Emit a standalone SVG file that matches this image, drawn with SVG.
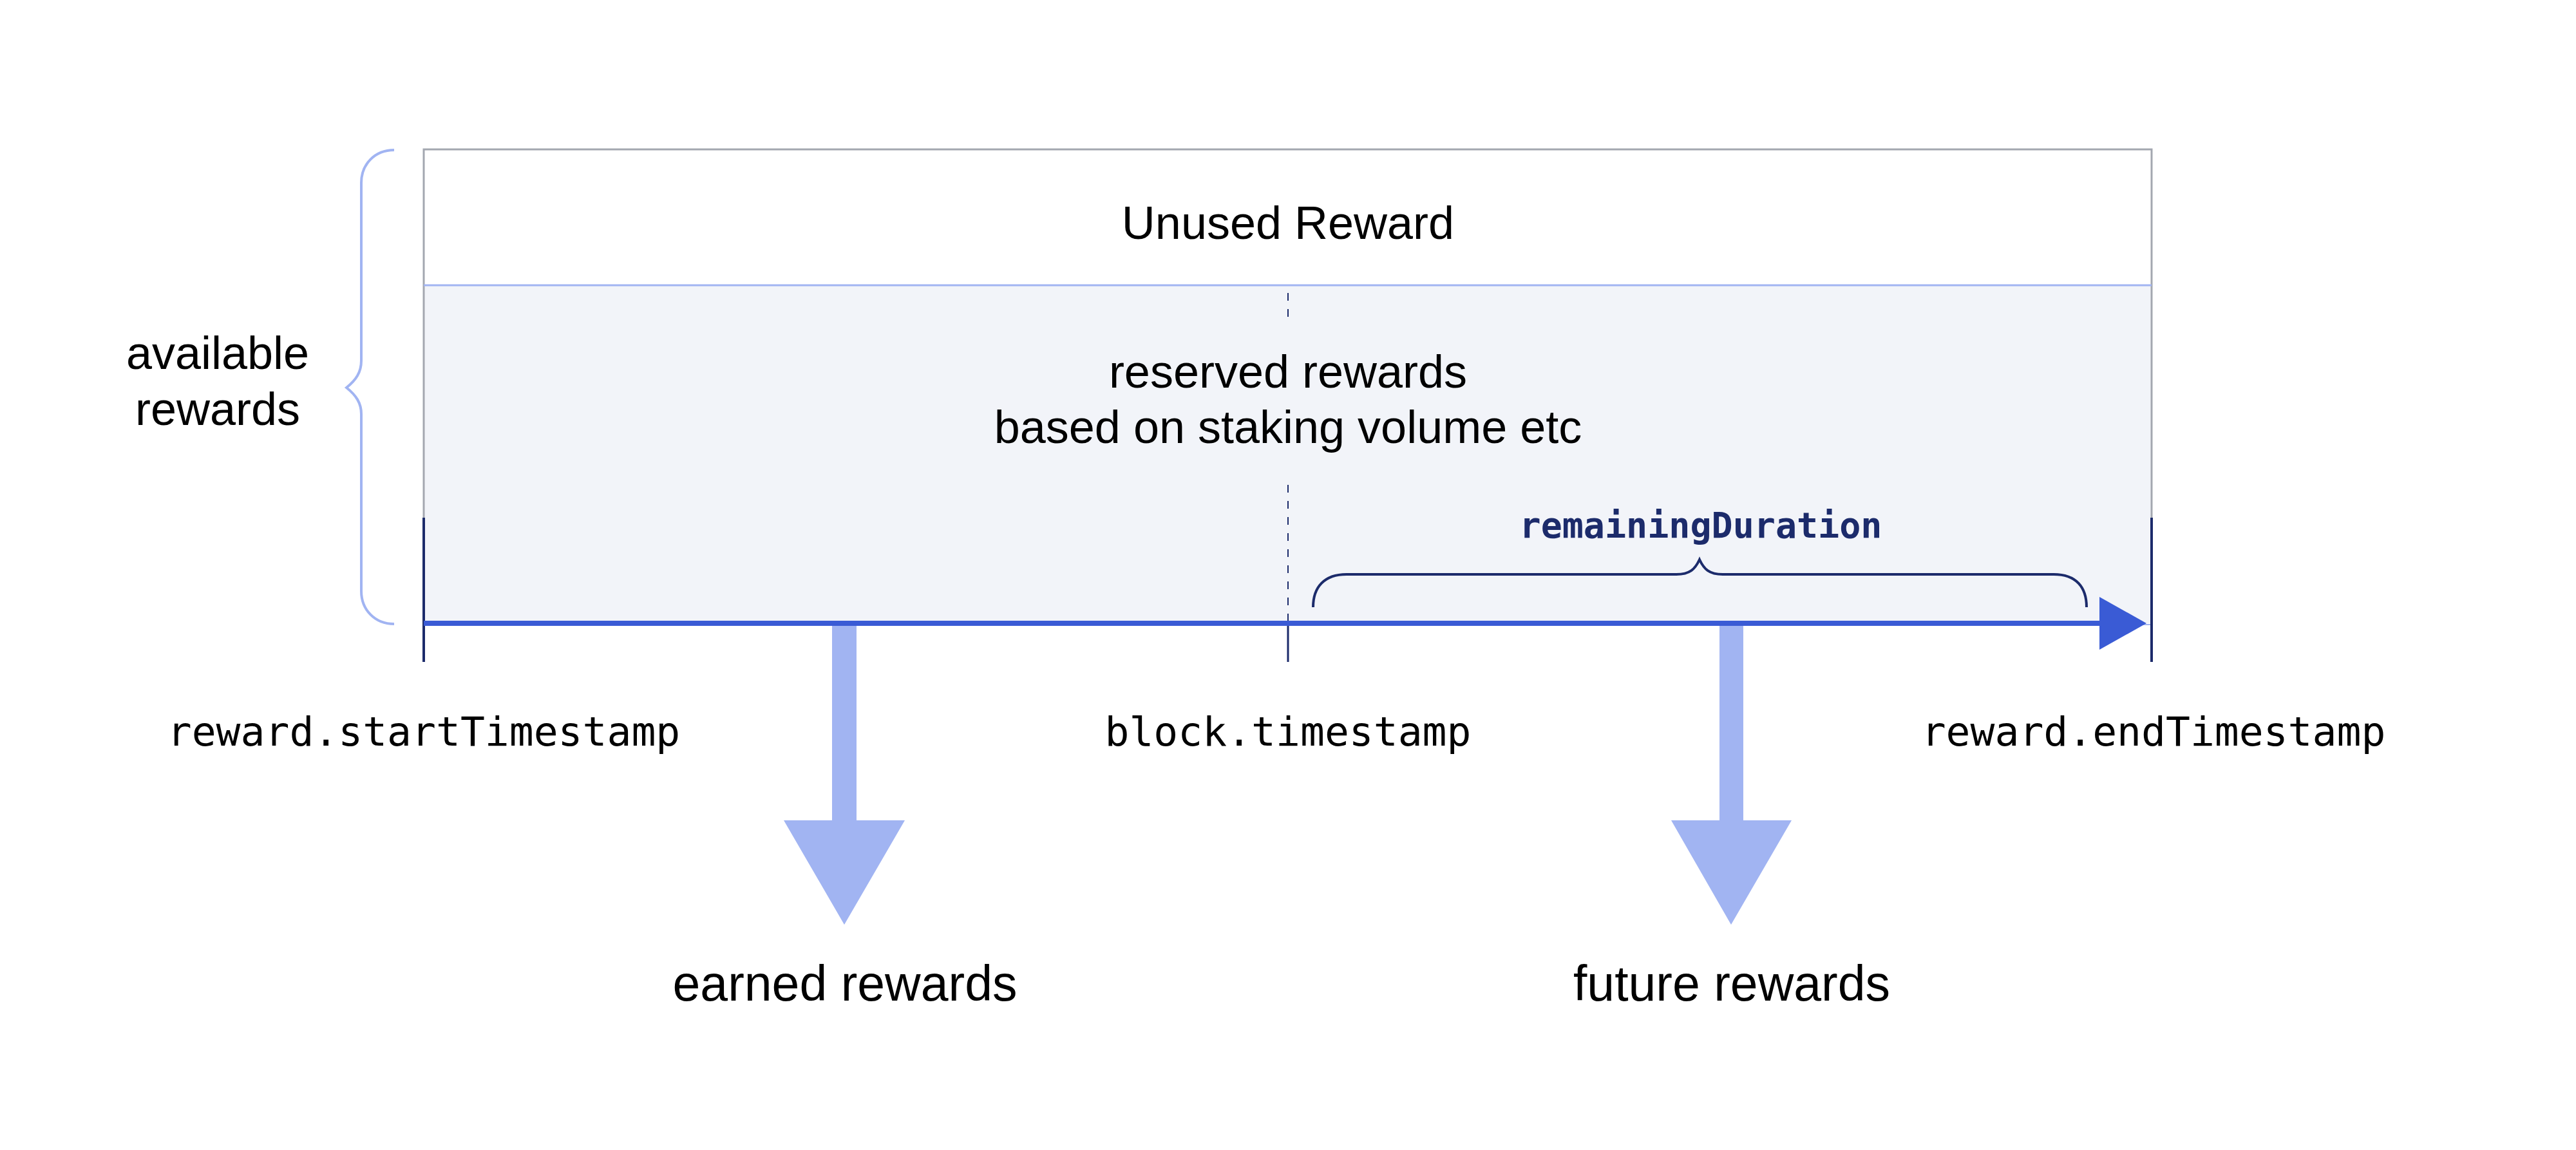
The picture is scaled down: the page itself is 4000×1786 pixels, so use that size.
<svg xmlns="http://www.w3.org/2000/svg" width="4000" height="1786" viewBox="0 0 4000 1786">
  <style>
    .sans { font-family: "Liberation Sans", Arial, sans-serif; fill: #000; text-anchor: middle; }
    .lbl { font-size: 72px; }
    .big { font-size: 77px; }
    .mono { font-family: "DejaVu Sans Mono", "Liberation Mono", monospace; font-size: 63px; fill: #000; text-anchor: middle; }
    .mono-b { font-family: "DejaVu Sans Mono", "Liberation Mono", monospace; font-size: 55px; font-weight: bold; fill: #1C2B6B; text-anchor: middle; }
    .navy { stroke: #1C2B6B; fill: none; }
    .gray { stroke: #A3A7B0; stroke-width: 3; fill: none; }
    .light { stroke: #A1B4F2; fill: none; }
    .down { fill: #A1B4F2; }
  </style>
  <rect width="4000" height="1786" fill="#ffffff"/>

  <g id="box">
    <rect x="658" y="443" width="2683" height="525" fill="#F2F4F9"/>
    <path class="gray" d="M658,804 L658,232 L3341,232 L3341,804"/>
    <line class="light" x1="658" y1="443" x2="3341" y2="443" stroke-width="3"/>
    <line class="light" x1="658" y1="970" x2="3341" y2="970" stroke-width="2"/>
    <text class="sans lbl" x="2000" y="371">Unused Reward</text>
    <text class="sans lbl" x="2000" y="602">reserved rewards</text>
    <text class="sans lbl" x="2000" y="688">based on staking volume etc</text>
  </g>

  <g id="available-rewards">
    <path class="light" stroke-width="4" d="M612,233 C582,233 561,255 561,284 L561,560 C561,578 553,590 538,602 C553,614 561,626 561,643 L561,918 C561,947 582,969 612,969"/>
    <text class="sans lbl" x="338" y="573">available</text>
    <text class="sans lbl" x="338" y="660">rewards</text>
  </g>

  <g id="start">
    <line class="navy" stroke-width="4" x1="658" y1="804" x2="658" y2="1028"/>
    <text class="mono" x="658" y="1158">reward.startTimestamp</text>
  </g>

  <g id="block">
    <line class="navy" stroke-width="2" stroke-dasharray="12 13" x1="2000" y1="455" x2="2000" y2="497"/>
    <line class="navy" stroke-width="2" stroke-dasharray="12 13" x1="2000" y1="753" x2="2000" y2="968"/>
    <line class="navy" stroke-width="3" x1="2000" y1="968" x2="2000" y2="1028"/>
    <text class="mono" x="2000" y="1158">block.timestamp</text>
  </g>

  <g id="end">
    <line class="navy" stroke-width="4" x1="3341" y1="804" x2="3341" y2="1028"/>
    <text class="mono" x="3344" y="1158">reward.endTimestamp</text>
  </g>

  <g id="remaining">
    <path class="navy" stroke-width="4" d="M2039,943 C2039,912 2056,892 2091,892 L2603,892 C2624,892 2632,884 2639,869 C2646,884 2654,892 2675,892 L3189,892 C3224,892 3240,912 3240,943"/>
    <text class="mono-b" x="2641" y="835">remainingDuration</text>
  </g>

  <g id="earned">
    <polygon class="down" points="1292,972 1330,972 1330,1274 1405,1274 1311,1436 1217,1274 1292,1274"/>
    <text class="sans big" x="1312" y="1554">earned rewards</text>
  </g>

  <g id="future">
    <polygon class="down" points="2670,972 2707,972 2707,1274 2782,1274 2688,1436 2595,1274 2670,1274"/>
    <text class="sans big" x="2689" y="1554">future rewards</text>
  </g>

  <g id="connectors">
    <line x1="658" y1="968" x2="3262" y2="968" stroke="#3A5BD5" stroke-width="8"/>
    <polygon points="3260,927 3333,968 3260,1009" fill="#3A5BD5"/>
  </g>
</svg>
